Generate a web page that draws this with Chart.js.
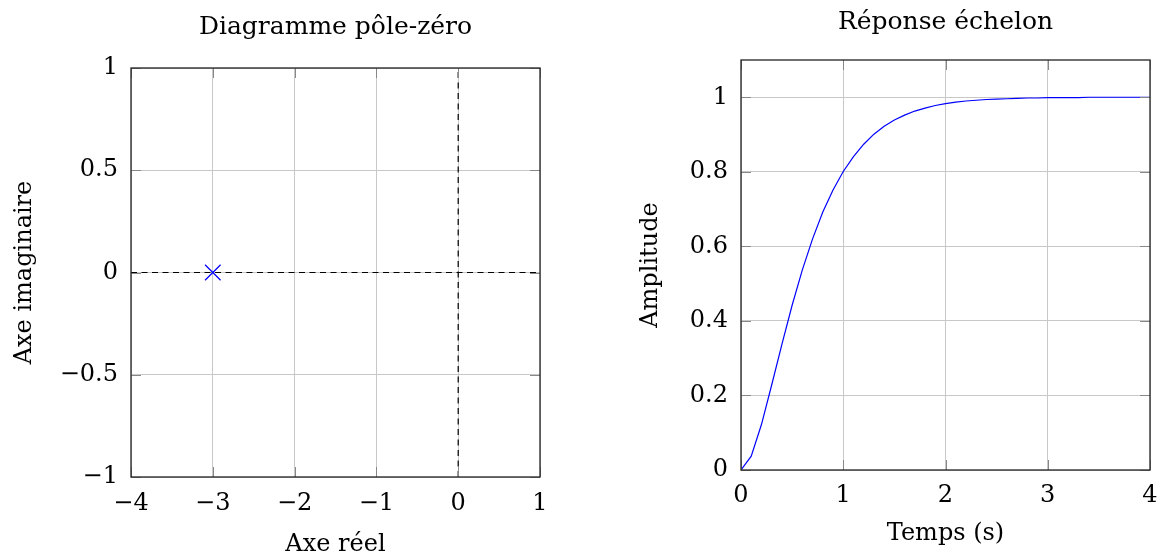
<!DOCTYPE html>
<html>
<head>
<meta charset="utf-8">
<script src="https://cdn.jsdelivr.net/npm/chart.js@4.4.1/dist/chart.umd.min.js"></script>
<style>
  body { margin: 0; background: #fff; }
  .box { position: absolute; top: 0; width: 581px; height: 558px; }
</style>
</head>
<body>
<div class="box" style="left:0"><canvas id="pzChart"></canvas></div>
<div class="box" style="left:581px"><canvas id="stepChart"></canvas></div>
<script>
// pole-zero data
var poleRe = [-3];
var poleIm = [0];
var pzXTicks = [-4, -3, -2, -1, 0, 1];
var pzYTicks = [-1, -0.5, 0, 0.5, 1];

// step response data (t in s)
var stepTime = [0, 0.1, 0.2, 0.3, 0.4, 0.5, 0.6, 0.7, 0.8, 0.9,
  1.0, 1.1, 1.2, 1.3, 1.4, 1.5, 1.6, 1.7, 1.8, 1.9,
  2.0, 2.1, 2.2, 2.3, 2.4, 2.5, 2.6, 2.7, 2.8, 2.9,
  3.0, 3.1, 3.2, 3.3, 3.4, 3.5, 3.6, 3.7, 3.8, 3.9, 4.0];
var stepAmp = [0, 0.037, 0.122, 0.228, 0.337, 0.442, 0.537, 0.620, 0.692, 0.751,
  0.801, 0.841, 0.874, 0.901, 0.922, 0.939, 0.952, 0.963, 0.971, 0.978,
  0.983, 0.987, 0.990, 0.992, 0.994, 0.995, 0.996, 0.997, 0.998, 0.998,
  0.999, 0.999, 0.999, 0.999, 1.000, 1.000, 1.000, 1.000, 1.000, 1.000, 1.000];
var stepXTicks = [0, 1, 2, 3, 4];
var stepYTicks = [0, 0.2, 0.4, 0.6, 0.8, 1];

Chart.defaults.font.family = "'DejaVu Serif', serif";
Chart.defaults.color = "#000";

function fmt(v) {
  var r = Math.round(v * 10) / 10;
  return String(r).replace("-", "\u2212");
}

function points(xs, ys) {
  var out = [];
  for (let i = 0; i < xs.length; i++) {
    out.push({ x: xs[i], y: ys[i] });
  }
  return out;
}

// frame + inner tick marks like pgfplots
var framePlugin = {
  id: "frame",
  afterDraw: function (chart) {
    var ctx = chart.ctx;
    var a = chart.chartArea;
    var xs = chart.scales.x, ys = chart.scales.y;
    var len = 10;
    ctx.save();
    ctx.strokeStyle = "#888";
    ctx.lineWidth = 1;
    ctx.beginPath();
    xs.ticks.forEach(function (t) {
      var px = Math.round(xs.getPixelForValue(t.value)) + 0.5;
      ctx.moveTo(px, a.bottom); ctx.lineTo(px, a.bottom - len);
      ctx.moveTo(px, a.top); ctx.lineTo(px, a.top + len);
    });
    ys.ticks.forEach(function (t) {
      var py = Math.round(ys.getPixelForValue(t.value)) + 0.5;
      ctx.moveTo(a.left, py); ctx.lineTo(a.left + len, py);
      ctx.moveTo(a.right, py); ctx.lineTo(a.right - len, py);
    });
    ctx.stroke();
    ctx.strokeStyle = "#222";
    ctx.lineWidth = 1.3;
    ctx.strokeRect(a.left, a.top, a.right - a.left, a.bottom - a.top);
    ctx.restore();
  }
};

function axis(min, max, step, fixedTicks, opts) {
  return {
    type: "linear",
    min: min,
    max: max,
    afterBuildTicks: function (scale) {
      scale.ticks = fixedTicks.map(function (v) { return { value: v }; });
    },
    ticks: {
      stepSize: step,
      padding: opts.tickPad,
      font: { size: 24 },
      callback: fmt
    },
    grid: { color: "#c8c8c8", lineWidth: 1, drawTicks: false },
    border: { display: false },
    title: {
      display: true,
      text: opts.title,
      font: { size: 24, lineHeight: 1 },
      padding: opts.titlePad
    },
    afterFit: function (s) {
      opts.fit(s);
      // keep the plot box where it is; labels may overflow into the margins
      s.paddingLeft = 0; s.paddingRight = 0;
      s.paddingTop = 0; s.paddingBottom = 0;
    }
  };
}

new Chart(document.getElementById("pzChart"), {
  type: "scatter",
  data: {
    datasets: [
      {
        label: "Pôles",
        data: points(poleRe, poleIm),
        pointStyle: "crossRot",
        pointRadius: 11,
        borderColor: "#0000ff",
        borderWidth: 1.2,
        showLine: false
      },
      {
        label: "re0",
        data: [{ x: -4, y: 0 }, { x: 1, y: 0 }],
        showLine: true,
        borderColor: "#000",
        borderWidth: 1.2,
        borderDash: [6, 4.5],
        pointRadius: 0
      },
      {
        label: "im0",
        data: [{ x: 0, y: -1 }, { x: 0, y: 1 }],
        showLine: true,
        borderColor: "#000",
        borderWidth: 1.2,
        borderDash: [6, 4.5],
        pointRadius: 0
      }
    ]
  },
  options: {
    responsive: true,
    maintainAspectRatio: false,
    animation: false,
    layout: { padding: { left: 0, right: 41, top: 0, bottom: 0 } },
    plugins: {
      legend: { display: false },
      tooltip: { enabled: false },
      title: {
        display: true,
        fullSize: false,
        text: "Diagramme pôle-zéro",
        font: { size: 25, weight: "normal" },
        padding: { top: 12.8, bottom: 25.2 }
      }
    },
    scales: {
      x: axis(-4, 1, 1, pzXTicks, {
        tickPad: 12, title: "Axe réel", titlePad: { top: 0, bottom: 1 },
        fit: function (s) { s.height = 81; }
      }),
      y: axis(-1, 1, 0.5, pzYTicks, {
        tickPad: 13, title: "Axe imaginaire", titlePad: { top: 13, bottom: 0 },
        fit: function (s) { s.width = 131; }
      })
    }
  },
  plugins: [framePlugin]
});

new Chart(document.getElementById("stepChart"), {
  type: "scatter",
  data: {
    datasets: [
      {
        label: "Réponse",
        data: points(stepTime, stepAmp),
        showLine: true,
        borderColor: "#0000ff",
        borderWidth: 1.2,
        pointRadius: 0,
        tension: 0
      }
    ]
  },
  options: {
    responsive: true,
    maintainAspectRatio: false,
    animation: false,
    layout: { padding: { left: 0, right: 12, top: 0, bottom: 0 } },
    plugins: {
      legend: { display: false },
      tooltip: { enabled: false },
      title: {
        display: true,
        fullSize: false,
        text: "Réponse échelon",
        font: { size: 25, weight: "normal" },
        padding: { top: 7.5, bottom: 22.5 }
      }
    },
    scales: {
      x: axis(0, 4, 1, stepXTicks, {
        tickPad: 11, title: "Temps (s)", titlePad: { top: 0, bottom: 12 },
        fit: function (s) { s.height = 88; }
      }),
      y: axis(0, 1.1, 0.2, stepYTicks, {
        tickPad: 13, title: "Amplitude", titlePad: { top: 58, bottom: 0 },
        fit: function (s) { s.width = 160; }
      })
    }
  },
  plugins: [framePlugin]
});
</script>
</body>
</html>
